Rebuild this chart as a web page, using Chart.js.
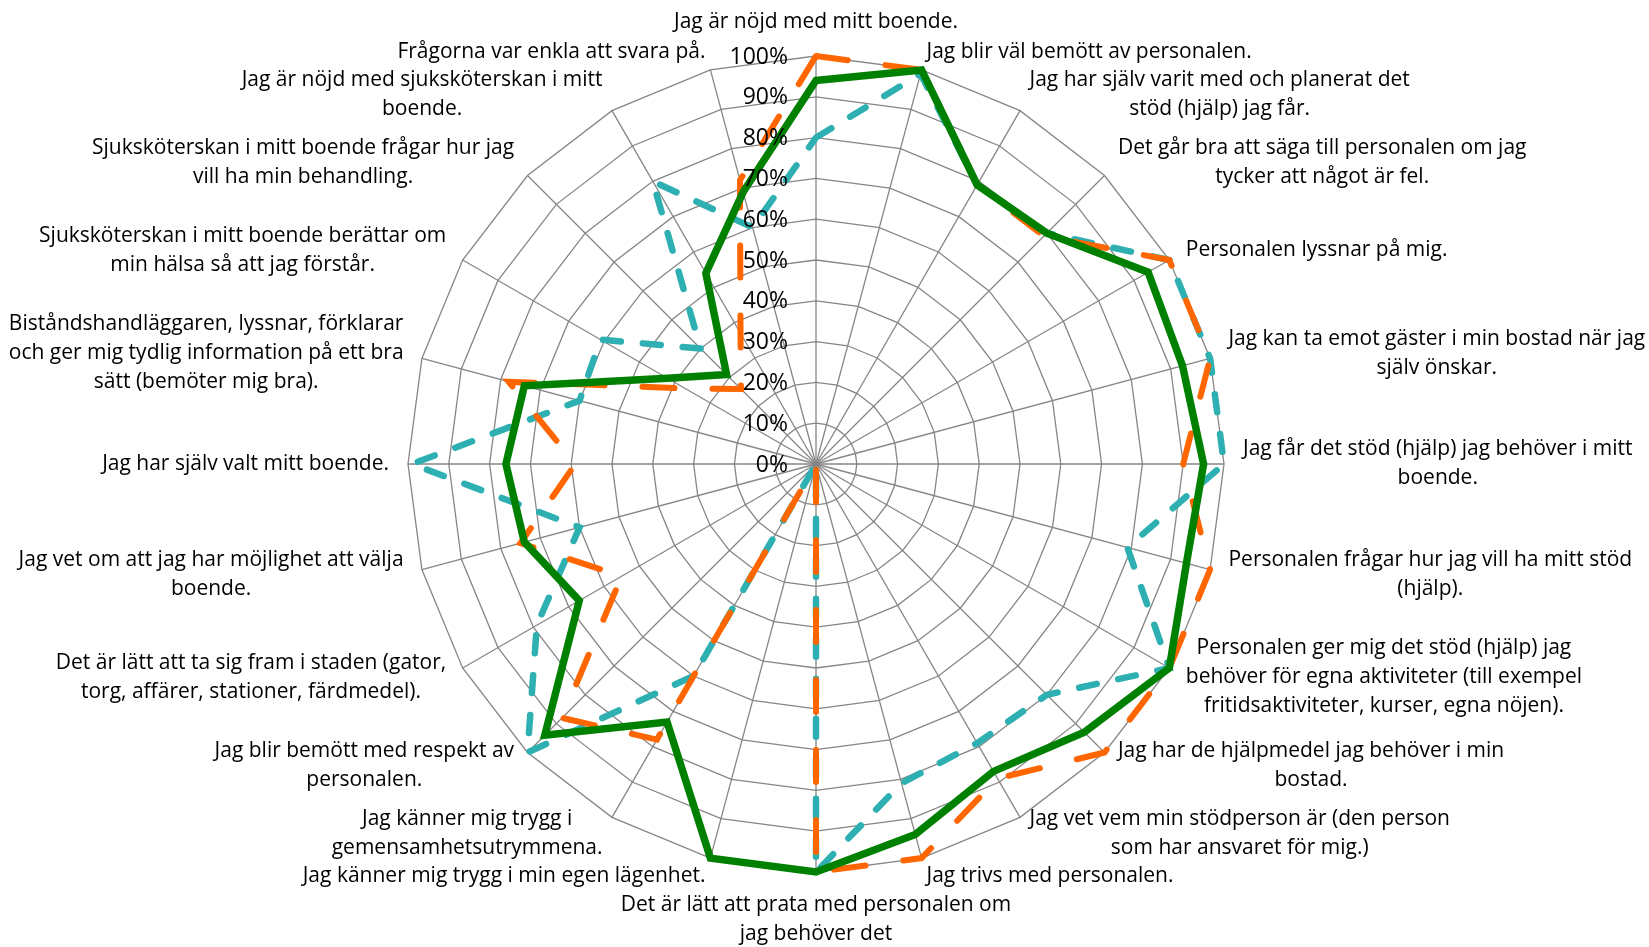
<!DOCTYPE html>
<html lang="sv">
<head>
<meta charset="utf-8">
<title>Radar</title>
<script src="https://cdn.jsdelivr.net/npm/chart.js@4.4.1/dist/chart.umd.min.js"></script>
<style>
	html, body { margin: 0; padding: 0; background: #fff; }
	canvas { display: block; }
</style>
</head>
<body>
<canvas id="chart-radar" width="1649" height="947"></canvas>
<script>
//
// Radar chart
//

'use strict';

// Data

var categories = [
	['Jag är nöjd med mitt boende.'],
	['Jag blir väl bemött av personalen.'],
	['Jag har själv varit med och planerat det', 'stöd (hjälp) jag får.'],
	['Det går bra att säga till personalen om jag', 'tycker att något är fel.'],
	['Personalen lyssnar på mig.'],
	['Jag kan ta emot gäster i min bostad när jag', 'själv önskar.'],
	['Jag får det stöd (hjälp) jag behöver i mitt', 'boende.'],
	['Personalen frågar hur jag vill ha mitt stöd', '(hjälp).'],
	['Personalen ger mig det stöd (hjälp) jag', 'behöver för egna aktiviteter (till exempel', 'fritidsaktiviteter, kurser, egna nöjen).'],
	['Jag har de hjälpmedel jag behöver i min', 'bostad.'],
	['Jag vet vem min stödperson är (den person', 'som har ansvaret för mig.)'],
	['Jag trivs med personalen.'],
	['Det är lätt att prata med personalen om', 'jag behöver det'],
	['Jag känner mig trygg i min egen lägenhet.'],
	['Jag känner mig trygg i', 'gemensamhetsutrymmena.'],
	['Jag blir bemött med respekt av', 'personalen.'],
	['Det är lätt att ta sig fram i staden (gator,', 'torg, affärer, stationer, färdmedel).'],
	['Jag vet om att jag har möjlighet att välja', 'boende.'],
	['Jag har själv valt mitt boende.'],
	['Biståndshandläggaren, lyssnar, förklarar', 'och ger mig tydlig information på ett bra', 'sätt (bemöter mig bra).'],
	['Sjuksköterskan i mitt boende berättar om', 'min hälsa så att jag förstår.'],
	['Sjuksköterskan i mitt boende frågar hur jag', 'vill ha min behandling.'],
	['Jag är nöjd med sjuksköterskan i mitt', 'boende.'],
	['Frågorna var enkla att svara på.']
];

var seriesGreen  = [94, 100, 79, 80, 94, 93, 95, 94, 100, 93, 87, 94, 100, 100, 73, 94, 67, 74, 76, 74, 42, 31, 54, 69];
var seriesOrange = [100, 100, 79, 79, 100, 100, 90, 100, 100, 100, 89, 100, 100, 0, 78, 88, 55, 75, 59, 78, 37, 26, 37, 72];
var seriesTeal   = [80, 99, 79, 80, 100, 100, 100, 79, 100, 80, 79, 81, 100, 0, 60, 100, 79, 60, 99, 60, 61, 40, 80, 60];

var tickLabels = ['0%', '10%', '20%', '30%', '40%', '50%', '60%', '70%', '80%', '90%', '100%'];


// Labels drawn around the scale

var spokeLabels = {
	id: 'spokeLabels',
	afterDraw: function(chart) {
		var scale = chart.scales.r;
		var ctx = chart.ctx;
		var lineHeight = 29;
		var count = categories.length;

		ctx.save();
		ctx.fillStyle = '#000';
		ctx.textBaseline = 'middle';

		// tick labels, left of the vertical axis
		ctx.font = '23px "Open Sans"';
		ctx.textAlign = 'right';
		scale.ticks.forEach(function(tick, i) {
			var y = scale.yCenter - scale.getDistanceFromCenterForValue(tick.value);
			ctx.fillText(tickLabels[i], scale.xCenter - 28, y + 1);
		});

		// category labels
		ctx.font = '21px "Open Sans"';
		ctx.textAlign = 'center';
		categories.forEach(function(lines, i) {
			var p = scale.getPointPosition(i, scale.drawingArea + 19);
			var deg = i * 360 / count;
			var w = Math.max.apply(null, lines.map(function(l) { return ctx.measureText(l).width; }));
			var h = lines.length * lineHeight;
			var left, top;

			if (deg === 0 || deg === 180) {
				left = p.x - w / 2;
			} else if (deg < 180) {
				left = p.x;
			} else {
				left = p.x - w;
			}

			if (deg === 0) {
				top = p.y - h;
			} else if (deg === 180) {
				top = p.y;
			} else {
				top = p.y - h / 2;
			}

			lines.forEach(function(l, k) {
				ctx.fillText(l, left + w / 2, top + lineHeight * (k + 0.5));
			});
		});

		ctx.restore();
	}
};


// Chart

var $chart = document.getElementById('chart-radar');

var radarChart = new Chart($chart, {
	type: 'radar',
	data: {
		labels: categories,
		datasets: [{
			label: 'Serie 1',
			data: seriesGreen,
			borderColor: '#008000',
			borderWidth: 7.5,
			borderJoinStyle: 'miter',
		}, {
			label: 'Serie 2',
			data: seriesOrange,
			borderColor: '#ff6600',
			borderWidth: 6,
			borderDash: [32, 38],
			borderCapStyle: 'round',
		}, {
			label: 'Serie 3',
			data: seriesTeal,
			borderColor: '#2eb0b2',
			borderWidth: 6.5,
			borderDash: [18, 22],
			borderCapStyle: 'round',
		}]
	},
	options: {
		responsive: false,
		devicePixelRatio: 1,
		animation: false,
		clip: false,
		layout: {
			padding: { left: 0, right: 17, top: 56, bottom: 75 }
		},
		elements: {
			line: { tension: 0, fill: false },
			point: { radius: 0, hoverRadius: 0 }
		},
		plugins: {
			legend: { display: false },
			tooltip: { enabled: false }
		},
		scales: {
			r: {
				min: 0,
				max: 100,
				ticks: { stepSize: 10, display: false },
				pointLabels: { display: false },
				grid: { color: '#868686', lineWidth: 1.3, circular: false },
				angleLines: { color: '#868686', lineWidth: 1.3 }
			}
		}
	},
	plugins: [spokeLabels]
});
</script>
</body>
</html>
